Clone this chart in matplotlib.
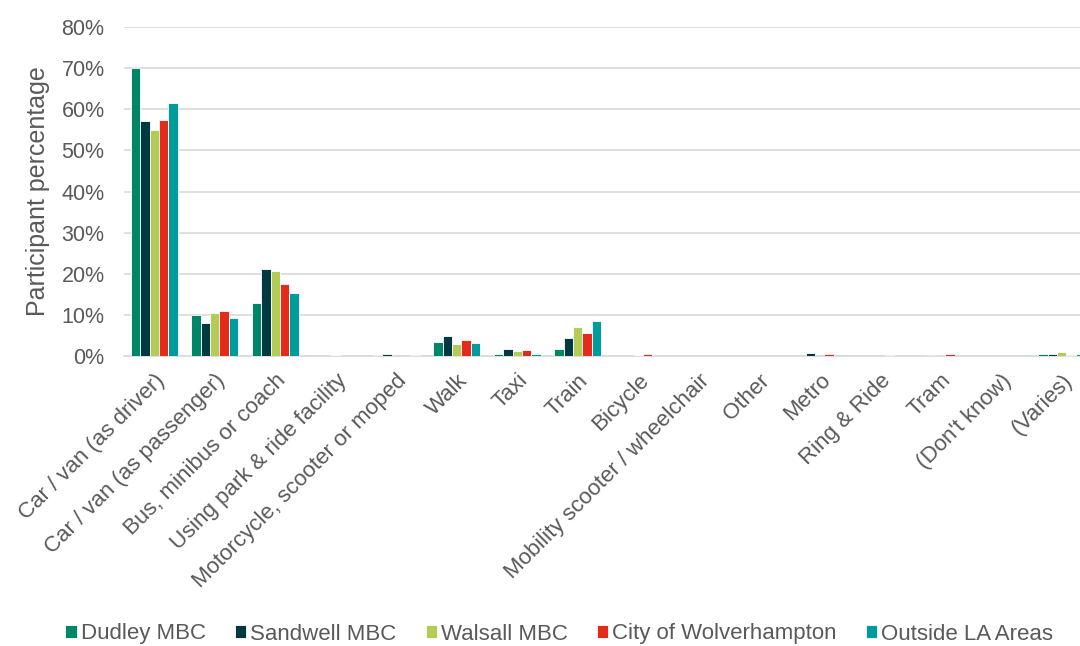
import numpy as np
import matplotlib
matplotlib.use("Agg")
import matplotlib.pyplot as plt
from matplotlib.ticker import PercentFormatter

plt.rcParams['font.family'] = ['Liberation Sans', 'DejaVu Sans']

categories = ["Car / van (as driver)", "Car / van (as passenger)", "Bus, minibus or coach",
              "Using park & ride facility", "Motorcycle, scooter or moped", "Walk", "Taxi",
              "Train", "Bicycle", "Mobility scooter / wheelchair", "Other", "Metro",
              "Ring & Ride", "Tram", "(Don't know)", "(Varies)"]

series_names = ["Dudley MBC", "Sandwell MBC", "Walsall MBC", "City of Wolverhampton", "Outside LA Areas"]

dudley = [70.0, 10.0, 12.8, 0.0, 0.3, 3.5, 0.5, 1.6, 0.1, 0.1, 0.0, 0.0, 0.0, 0.0, 0.0, 0.4]
sandwell = [57.2, 8.0, 21.2, 0.0, 0.4, 4.9, 1.7, 4.3, 0.0, 0.1, 0.0, 0.8, 0.0, 0.2, 0.0, 0.4]
walsall = [55.0, 10.5, 20.6, 0.2, 0.0, 2.9, 1.1, 7.1, 0.2, 0.1, 0.0, 0.0, 0.0, 0.0, 0.0, 0.9]
wolverhampton = [57.5, 11.0, 17.6, 0.1, 0.0, 3.9, 1.4, 5.7, 0.5, 0.0, 0.0, 0.4, 0.3, 0.6, 0.0, 0.2]
outside = [61.5, 9.3, 15.3, 0.0, 0.2, 3.2, 0.5, 8.6, 0.0, 0.1, 0.0, 0.0, 0.0, 0.0, 0.0, 0.4]

colors = ["#008566", "#003A40", "#B2CC55", "#E42A1B", "#009B9B"]
text_color = "#595959"

fig = plt.figure(figsize=(10.8, 6.46), dpi=100)
# plot area runs slightly past the right edge of the canvas
ax = fig.add_axes([124 / 1080, 1 - 356 / 646, 968 / 1080, 329 / 646])

x = np.arange(len(categories))
width = 0.157
all_series = [dudley, sandwell, walsall, wolverhampton, outside]
for i, (name, vals, col) in enumerate(zip(series_names, all_series, colors)):
    ax.bar(x + (i - 2) * width, vals, width, color=col, label=name,
           edgecolor="white", linewidth=0.6, zorder=3)

ax.set_xlim(-0.5, len(categories) - 0.5)
ax.set_ylim(0, 80)
ax.set_yticks(np.arange(0, 81, 10))
ax.yaxis.set_major_formatter(PercentFormatter(decimals=0))
ax.grid(axis="y", color="#D9D9D9", linewidth=1.2, zorder=0)
for s in ["top", "right", "left"]:
    ax.spines[s].set_visible(False)
ax.spines["bottom"].set_color("#D9D9D9")
ax.spines["bottom"].set_linewidth(1.2)

ax.set_xticks(x)
ax.set_xticklabels(categories, rotation=45, ha="right", rotation_mode="anchor",
                   fontsize=16, color=text_color)
ax.tick_params(axis="x", length=0, pad=10)
ax.tick_params(axis="y", length=0, labelsize=15.5, labelcolor=text_color, pad=14)
ax.set_ylabel("Participant percentage", fontsize=18, color=text_color, labelpad=8)

fig.legend(loc="center", bbox_to_anchor=(0.518, 1 - 634 / 646), ncol=5, frameon=False,
           fontsize=16, labelcolor=text_color, handlelength=0.5, handleheight=0.5,
           handletextpad=0.2, columnspacing=1.3, borderpad=0)

fig.savefig("out.png", dpi=100)
